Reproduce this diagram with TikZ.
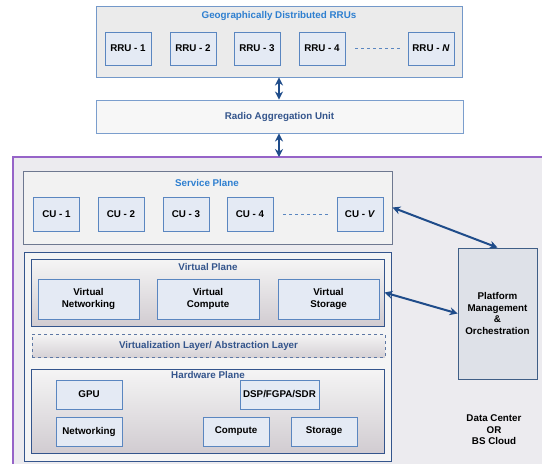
\documentclass[tikz,border=0pt]{standalone}
\usepackage{fontspec}
\setmainfont{Liberation Sans}
\usetikzlibrary{arrows.meta}
\definecolor{boxfill}{HTML}{E4EAF4}
\definecolor{boxline}{HTML}{5A86C0}
\definecolor{titleblue}{HTML}{2E7FD0}
\definecolor{darktitle}{HTML}{34558C}
\definecolor{dcpurple}{RGB}{150,100,200}
\definecolor{arrowblue}{HTML}{1F4C8A}
\definecolor{spline}{HTML}{6E7890}
\definecolor{bgfill}{HTML}{ECEBEF}
\definecolor{pmfill}{HTML}{DEE1E8}
\tikzset{
  x=1pt, y=-1pt,
  every node/.style={font=\bfseries\fontsize{9.8}{11.5}\selectfont, inner sep=0pt, align=center},
  unit/.style={draw=boxline, fill=boxfill, line width=0.8pt, minimum height=33, minimum width=46},
  group/.style={draw=#1, line width=0.9pt, inner sep=0pt},
  plane/.style={draw=darktitle, line width=0.9pt, top color=black!4, bottom color=violet!20!black!20},
  biarrow/.style={draw=arrowblue, line width=2pt, {Stealth[length=8pt,width=8pt]}-{Stealth[length=8pt,width=8pt]}},
  dots/.style={draw=boxline, dashed, line width=0.6pt},
  gtitle/.style={text=titleblue},
  dtitle/.style={text=darktitle}
}
\begin{document}
\begin{tikzpicture}
\useasboundingbox (0,0) rectangle (542,464);
\clip (0,0) rectangle (542,464);
% outer data center box
\node[fill=bgfill, minimum width=540, minimum height=320, anchor=north west] (dc) at (13,157) {};
\draw[dcpurple, line width=1.4pt] (dc.south west) |- (dc.north east);
% top RRU group
\node[group=boxline!85, fill=black!8, minimum width=366, minimum height=71] (top) at (279,41.5) {};
\node[gtitle] (toptitle) at (279,16) {Geographically Distributed RRUs};
\node[unit] (r1) at (128,48.5) {RRU - 1};
\node[unit] (r2) at (193,48.5) {RRU - 2};
\node[unit] (r3) at (257,48.5) {RRU - 3};
\node[unit] (r4) at (322,48.5) {RRU - 4};
\node[unit] (rn) at (431,48.5) {RRU - \textit{N}};
\draw[dots] ([xshift=10pt]r4.east) -- ([xshift=-6pt]rn.west);
% RAU
\node[group=boxline!80, fill=black!3, minimum width=367, minimum height=33, text=darktitle] (rau) at (279.5,116.5) {Radio Aggregation Unit};
\draw[biarrow] (top.south) -- (top.south |- rau.north);
\draw[biarrow] (rau.south -| top.south) -- (top.south |- dc.north);
% service plane
\node[group=spline, fill=black!5, minimum width=368.5, minimum height=73] (sp) at (207.75,207.5) {};
\node[gtitle] (sptitle) at (207,183) {Service Plane};
\node[unit, minimum height=34] (c1) at (56.5,214.5) {CU - 1};
\node[unit, minimum height=34] (c2) at (121,214.5) {CU - 2};
\node[unit, minimum height=34] (c3) at (186,214.5) {CU - 3};
\node[unit, minimum height=34] (c4) at (250,214.5) {CU - 4};
\node[unit, minimum height=34] (cv) at (360,214.5) {CU - \textit{V}};
\draw[dots] ([xshift=10pt]c4.east) -- ([xshift=-9pt]cv.west);
% virtualization group
\node[group=darktitle, fill=black!4, minimum width=367, minimum height=209] (vg) at (207.5,356.5) {};
\node[plane, minimum width=353, minimum height=67] (vp) at (207.5,292.5) {};
\node[dtitle] (vptitle) at (208,267) {Virtual Plane};
\node[unit, minimum width=101, minimum height=40] (vn) at (88.5,299) {Virtual\\Networking};
\node[unit, minimum width=102, minimum height=40] (vc) at (208,299) {Virtual\\Compute};
\node[unit, minimum width=101, minimum height=40] (vs) at (328.5,299) {Virtual\\Storage};
\node[draw=darktitle!80, dashed, line width=0.8pt, top color=black!4, bottom color=violet!20!black!18, minimum width=353, minimum height=23, text=darktitle] (vl) at (208.5,345.5) {Virtualization Layer/ Abstraction Layer};
\node[plane, minimum width=353, minimum height=84] (hp) at (207.5,411) {};
\node[dtitle] (hptitle) at (208,375) {Hardware Plane};
\node[unit, minimum width=66, minimum height=29] (gpu) at (89,394.5) {GPU};
\node[unit, minimum width=79, minimum height=29] (dsp) at (279.5,394.5) {DSP/FGPA/SDR};
\node[unit, minimum width=66, minimum height=29] (net) at (89,431.5) {Networking};
\node[unit, minimum width=66, minimum height=29] (comp) at (236,431.5) {Compute};
\node[unit, minimum width=66, minimum height=29] (stor) at (324,431.5) {Storage};
% platform
\node[draw=boxline!70!black, line width=0.8pt, fill=pmfill, minimum width=79, minimum height=131] (pm) at (497.5,313.5) {Platform\\Management\\\&\\Orchestration};
\node (dctext) at (494,430) {Data Center\\OR\\BS Cloud};
\draw[biarrow] (sp.east) -- (pm.north);
\draw[biarrow] (vp.east) -- (pm.west);
\end{tikzpicture}
\end{document}
